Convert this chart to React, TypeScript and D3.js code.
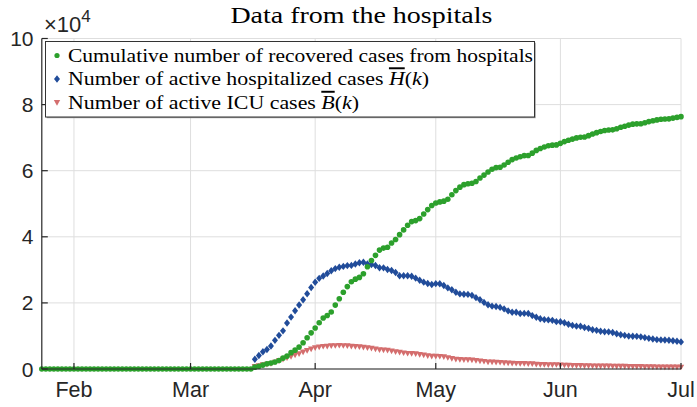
import React from "react";
import * as d3 from "d3";

// ---- data (France hospital data) ----
const zeroStart = "2020-01-24"; // recovered series shown as zeros from this date
const recoveredLeadingZeros = [
  0, 0, 0, 0, 0, 0, 0, 0, 0, 0, 0, 0, 0, 0, 0, 0, 0, 0, 0, 0, 0, 0, 0, 0, 0, 0,
  0, 0, 0, 0, 0, 0, 0, 0, 0, 0, 0, 0, 0, 0, 0, 0, 0, 0, 0, 0, 0, 0, 0, 0, 0, 0, 0,
];
const dataStart = "2020-03-17";
const recovered = [
  560, 816, 1180, 1587, 1811, 2117, 2567, 3281, 3900, 4948, 5700, 6624, 7924, 9444, 10934,
  12428, 14008, 15438, 16183, 17250, 19337, 21254, 23206, 24932, 26391, 27186, 27718, 28805, 30955, 32812,
  34387, 35983, 36578, 36835, 38125, 39181, 40657, 42088, 43493, 44594, 44903, 45513, 46886, 48228, 49476,
  50212, 50562, 50784, 51371, 52736, 53972, 55027, 55782, 56038, 56217, 56724, 57785, 58673, 59605, 60448,
  60937, 61066, 61728, 62563, 63354, 63858, 64209, 64547, 64617, 65317, 66142, 66702, 67191, 67542, 67734,
  67803, 68268, 68812, 69224, 69554, 69929, 70109, 70183, 70600, 71101, 71513, 71863, 72182, 72327, 72363,
  72687, 73165, 73443, 73800, 74083, 74183, 74226, 74505, 74861, 75132, 75374, 75571, 75661, 75695, 75920,
  76131, 76355,
];
const hospitalized = [
  2972, 4073, 5226, 5900, 6954, 8673, 10176, 11539, 13904, 15701, 17620, 19354, 20946, 22757,
  24639, 26246, 27432, 28143, 28891, 29741, 30375, 30767, 31037, 31292, 31352, 31760, 32131, 32292, 31779,
  31623, 31305, 30639, 30610, 30106, 29784, 29219, 28217, 28222, 28217, 28055, 27484, 26834, 26283, 25887,
  25548, 25827, 25775, 25281, 24541, 23983, 23208, 22724, 22614, 22569, 22284, 21595, 20941, 20155, 19432,
  19015, 18925, 18636, 18184, 17583, 17178, 17185, 16798, 16820, 16798, 16155, 15680, 15208, 14946, 14850,
  14726, 14322, 14288, 13992, 13555, 13195, 12968, 12927, 12569, 12302, 11892, 11696, 11441, 11276, 11233,
  11064, 10680, 10385, 10172, 9949, 9890, 9872, 9729, 9498, 9275, 9064, 8885, 8810, 8777, 8690, 8529, 8374,
  8200,
];
const icu = [
  771, 1002, 1297, 1453, 1674, 2080, 2516, 2935, 3351, 3758, 4236, 4592, 5107, 5565,
  6017, 6399, 6662, 6838, 6872, 7004, 7072, 7148, 7066, 7004, 6883, 6821, 6730, 6599, 6417,
  6248, 6027, 5833, 5744, 5683, 5433, 5218, 5053, 4870, 4725, 4682, 4608, 4387, 4207, 4019,
  3878, 3827, 3819, 3696, 3430, 3147, 2961, 2868, 2812, 2776, 2712, 2542, 2428, 2299, 2132,
  2087, 2046, 1998, 1894, 1794, 1745, 1701, 1665, 1655, 1609, 1555, 1429, 1361, 1325, 1302,
  1288, 1319, 1202, 1169, 1137, 1094, 1053, 1024, 1001, 975, 944, 906, 883, 879, 870,
  869, 839, 812, 799, 779, 765, 746, 731, 703, 680, 659, 633, 618, 614, 605, 588, 576, 560,
];
const xDomain = ["2020-01-24", "2020-07-01"];
const monthTicks = ["2020-02-01", "2020-03-01", "2020-04-01", "2020-05-01", "2020-06-01", "2020-07-01"];
const monthLabels = ["Feb", "Mar", "Apr", "May", "Jun", "Jul"];
const yTicks = [0, 20000, 40000, 60000, 80000, 100000];
const yTickLabels = ["0", "2", "4", "6", "8", "10"];
const title = "Data from the hospitals";
const legendLabels = [
  "Cumulative number of recovered cases from hospitals",
  "Number of active hospitalized cases ",
  "Number of active ICU cases ",
];

const parse = d3.utcParse("%Y-%m-%d");
const dayAfter = (start: string, i: number) => d3.utcDay.offset(parse(start)!, i);

const GREEN = "#2ca02c";
const BLUE = "#214c9a";
const RED = "#d46e6e";
const AXIS = "#262626";

export default function App() {
  const W = 697, H = 407;
  const x = d3.scaleUtc().domain(xDomain.map((d) => parse(d)!)).range([41.8, 681]);
  const y = d3.scaleLinear().domain([0, 100000]).range([369, 38.5]);
  const x0 = x.range()[0], x1 = x.range()[1];
  const y0 = y.range()[0], y1 = y.range()[1];

  const greenPts = [
    ...recoveredLeadingZeros.map((v, i) => ({ d: dayAfter(zeroStart, i), v })),
    ...recovered.map((v, i) => ({ d: dayAfter(dataStart, i), v })),
  ];
  const bluePts = hospitalized.map((v, i) => ({ d: dayAfter(dataStart, i), v }));
  const redPts = icu.map((v, i) => ({ d: dayAfter(dataStart, i), v }));

  const diamond = (cx: number, cy: number) =>
    `M${cx},${cy - 3.7}L${cx + 3},${cy}L${cx},${cy + 3.7}L${cx - 3},${cy}Z`;
  const tri = (cx: number, cy: number) =>
    `M${cx - 3.2},${cy - 2.5}L${cx + 3.2},${cy - 2.5}L${cx},${cy + 3.2}Z`;

  const sans = "'Liberation Sans', Arial, Helvetica, sans-serif";
  const serif = "'Liberation Serif', 'Times New Roman', serif";

  const legX = 45.5, legY = 41.5, legW = 489, legH = 75.5;
  const rowY = [55.5, 79, 102.5];
  const textW = [465, 361, 291];

  return (
    <svg width={W} height={H} style={{ position: "absolute", left: 0, top: 0, background: "#fff" }}>
      <rect x={0} y={0} width={W} height={H} fill="#fff" />
      {/* grid */}
      {monthTicks.map((t) => (
        <line key={"gx" + t} x1={x(parse(t)!)} x2={x(parse(t)!)} y1={y0} y2={y1} stroke="#dedede" strokeWidth={1} />
      ))}
      {yTicks.map((t) => (
        <line key={"gy" + t} x1={x0} x2={x1} y1={y(t)} y2={y(t)} stroke="#dedede" strokeWidth={1} />
      ))}
      {/* series */}
      {redPts.map((p, i) => (
        <path key={"r" + i} d={tri(x(p.d), y(p.v))} fill={RED} />
      ))}
      {bluePts.map((p, i) => (
        <path key={"b" + i} d={diamond(x(p.d), y(p.v))} fill={BLUE} />
      ))}
      {greenPts.map((p, i) => (
        <circle key={"g" + i} cx={x(p.d)} cy={y(p.v)} r={2.8} fill={GREEN} />
      ))}
      {/* axes */}
      <line x1={x0} x2={x0} y1={y0} y2={y1} stroke={AXIS} strokeWidth={1.2} />
      <line x1={x0} x2={x1} y1={y0} y2={y0} stroke={AXIS} strokeWidth={1.2} />
      {yTicks.map((t, i) => (
        <g key={"yt" + t}>
          <line x1={x0} x2={x0 + 6} y1={y(t)} y2={y(t)} stroke={AXIS} strokeWidth={1.2} />
          <text x={33.5} y={y(t)} dy="0.36em" textAnchor="end" fontFamily={sans} fontSize={21} fill={AXIS}>
            {yTickLabels[i]}
          </text>
        </g>
      ))}
      {monthTicks.map((t, i) => (
        <g key={"xt" + t}>
          <line x1={x(parse(t)!)} x2={x(parse(t)!)} y1={y0} y2={y0 - 6} stroke={AXIS} strokeWidth={1.2} />
          <text x={x(parse(t)!)} y={397} textAnchor="middle" fontFamily={sans} fontSize={21.5} fill={AXIS}>
            {monthLabels[i]}
          </text>
        </g>
      ))}
      {/* exponent */}
      <text x={44} y={32} fontFamily={sans} fontSize={22} fill={AXIS}>
        <tspan>×10</tspan>
        <tspan dy={-10} fontSize={17}>4</tspan>
      </text>
      {/* title */}
      <text x={(x0 + x1) / 2} y={23} textAnchor="middle" fontFamily={serif} fontSize={23} fill="#000" textLength={262} lengthAdjust="spacingAndGlyphs">
        {title}
      </text>
      {/* legend */}
      <rect x={legX + 1.2} y={legY + 1.2} width={legW} height={legH} fill="#9a9a9a" />
      <rect x={legX} y={legY} width={legW} height={legH} fill="#fff" stroke="#333" strokeWidth={1} />
      <circle cx={57} cy={rowY[0]} r={2.6} fill={GREEN} />
      <path d={diamond(57, rowY[1])} fill={BLUE} />
      <path d={tri(57, rowY[2])} fill={RED} />
      <text x={68} y={rowY[0] + 6.3} fontFamily={serif} fontSize={19.5} fill="#000" textLength={textW[0]} lengthAdjust="spacingAndGlyphs">
        {legendLabels[0]}
      </text>
      <text x={68} y={rowY[1] + 6.3} fontFamily={serif} fontSize={19.5} fill="#000" textLength={textW[1]} lengthAdjust="spacingAndGlyphs">
        {legendLabels[1]}
        <tspan fontStyle="italic" style={{ textDecoration: "overline" }}>H</tspan>
        <tspan>(</tspan>
        <tspan fontStyle="italic">k</tspan>
        <tspan>)</tspan>
      </text>
      <text x={68} y={rowY[2] + 6.3} fontFamily={serif} fontSize={19.5} fill="#000" textLength={textW[2]} lengthAdjust="spacingAndGlyphs">
        {legendLabels[2]}
        <tspan fontStyle="italic" style={{ textDecoration: "overline" }}>B</tspan>
        <tspan>(</tspan>
        <tspan fontStyle="italic">k</tspan>
        <tspan>)</tspan>
      </text>
    </svg>
  );
}
